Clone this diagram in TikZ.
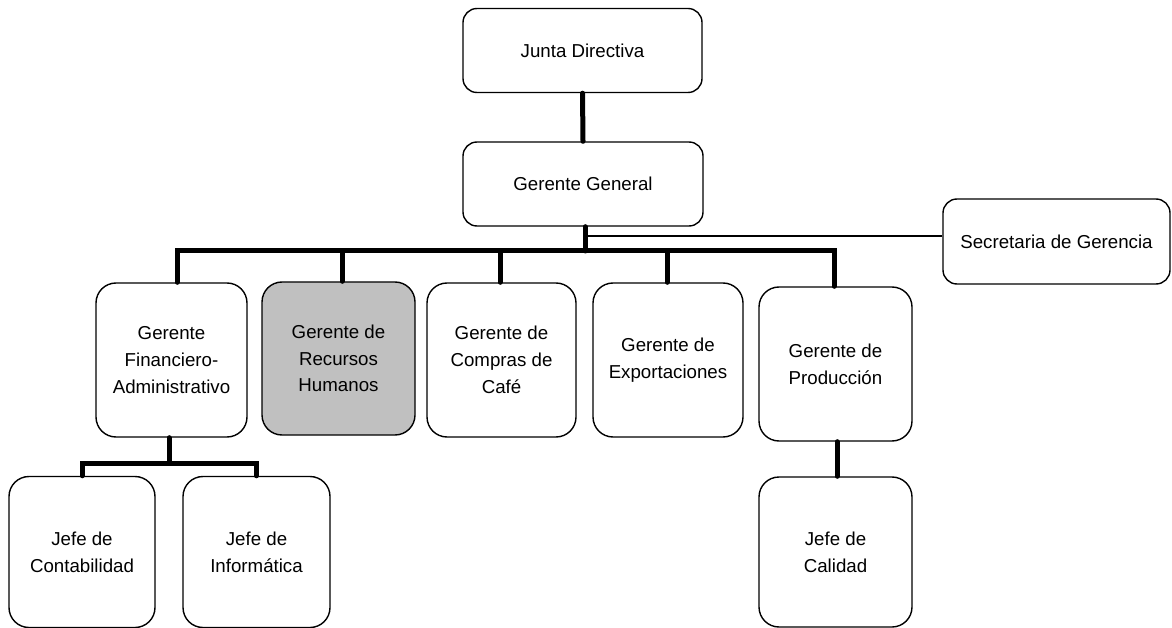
\documentclass[tikz,border=0pt]{standalone}
\usepackage{fontspec}
\setmainfont{Liberation Sans}
\definecolor{hrgray}{HTML}{C0C0C0}
\begin{document}
\begin{tikzpicture}[x=1pt,y=-1pt,
  box/.style={draw=black, line width=1.4pt, rounded corners=14pt, fill=white,
    align=center, inner sep=0pt, font=\fontsize{18.7}{26.7}\selectfont},
  tallbox/.style={box, rounded corners=20pt},
  link/.style={line width=5pt, line cap=round},
  thinlink/.style={line width=1.2pt}]
\useasboundingbox (0,0) rectangle (1172,628);
\node[box, minimum width=239pt, minimum height=84pt] (jd) at (582.5,50.5) {Junta Directiva};
\node[box, minimum width=240pt, minimum height=84pt] (gg) at (583,184) {Gerente General};
\node[box, minimum width=227pt, minimum height=85pt] (sec) at (1056.5,241.5) {Secretaria de Gerencia};
\node[tallbox, minimum width=151pt, minimum height=154pt] (gf) at (171.5,360) {Gerente\\Financiero-\\Administrativo};
\node[tallbox, fill=hrgray, minimum width=153pt, minimum height=153pt] (rh) at (338.5,358.5) {Gerente de\\Recursos\\Humanos};
\node[tallbox, minimum width=149pt, minimum height=154pt] (cc) at (501.5,360) {Gerente de\\Compras de\\Café};
\node[tallbox, minimum width=150pt, minimum height=154pt] (ex) at (668,360) {Gerente de\\Exportaciones};
\node[tallbox, minimum width=153pt, minimum height=154pt] (pr) at (835.5,364) {Gerente de\\Producción};
\node[tallbox, minimum width=146pt, minimum height=151pt] (jc) at (82,552) {Jefe de\\Contabilidad};
\node[tallbox, minimum width=147pt, minimum height=151pt] (ji) at (256.5,552) {Jefe de\\Informática};
\node[tallbox, minimum width=153pt, minimum height=150pt] (jq) at (835.5,552) {Jefe de\\Calidad};
% connectors
\coordinate (bus) at (585,251);
\coordinate (tap) at (585,236);
\coordinate (fb) at (169,463);
\draw[link] (jd.south) -- (gg.north);
\draw[link] (gg.south -| bus) -- (bus);
\draw[thinlink] (tap) -- (tap -| sec.west);
\draw[link] (bus) -| ([xshift=5.5pt]gf.north);
\draw[link] (bus) -| ([xshift=3.5pt]rh.north);
\draw[link] (bus) -| ([xshift=-1.5pt]cc.north);
\draw[link] (bus) -| ([xshift=-1pt]ex.north);
\draw[link] (bus) -| ([xshift=-1.5pt]pr.north);
\draw[link] (gf.south -| fb) -- (fb);
\draw[link] (jc.north) |- (fb) -| (ji.north);
\draw[link] ([xshift=1.5pt]pr.south) -- ([xshift=1.5pt]jq.north);
\end{tikzpicture}
\end{document}
